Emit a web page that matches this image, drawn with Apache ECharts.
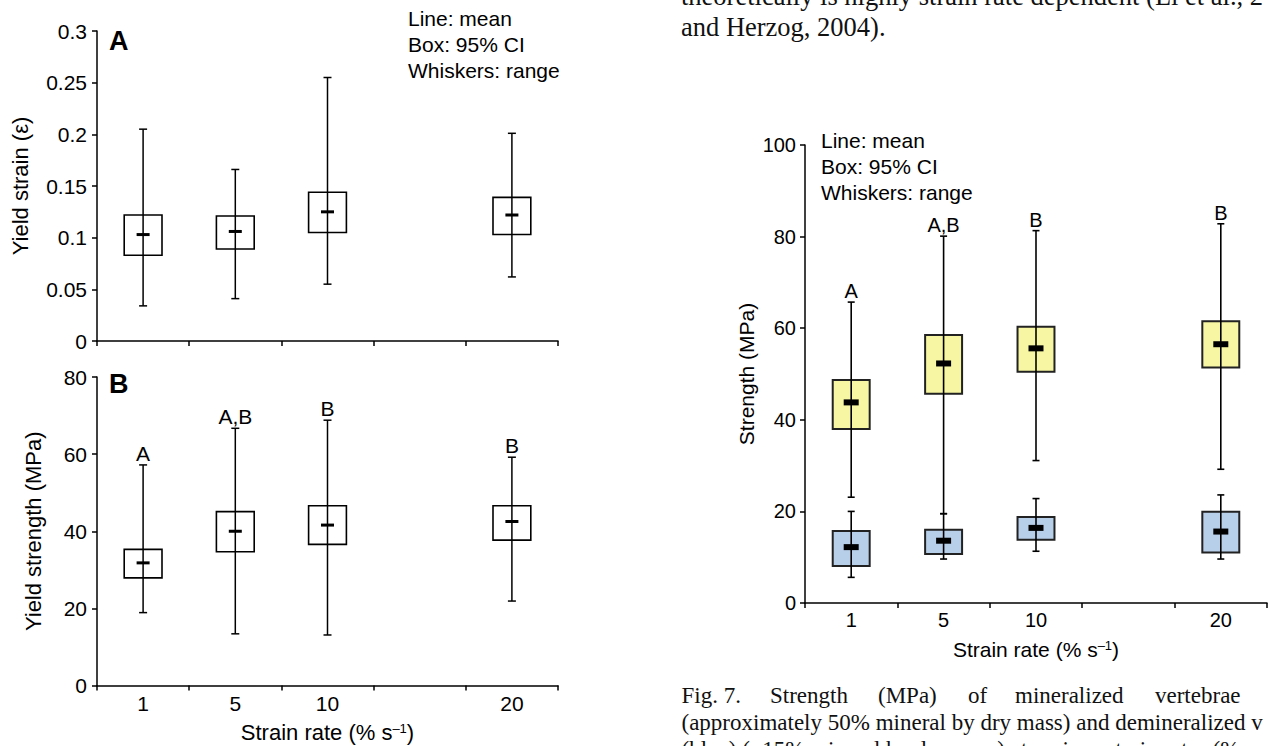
<!DOCTYPE html>
<html>
<head>
<meta charset="utf-8">
<script src="https://cdn.jsdelivr.net/npm/echarts@6/dist/echarts.min.js"></script>
<style>
html,body{margin:0;padding:0;background:#fff;}
#chart{width:1270px;height:746px;}
</style>
</head>
<body>
<div id="chart"></div>
<script>
// ---------- DATA ----------
const categories = ['1', '5', '10', '', '20'];
const xTitle = 'Strain rate (% s';

// Panel A: yield strain
const strainMin  = [0.034, 0.041, 0.055, null, 0.062];
const strainLow  = [0.083, 0.089, 0.105, null, 0.103];
const strainMean = [0.103, 0.106, 0.125, null, 0.122];
const strainHigh = [0.122, 0.121, 0.144, null, 0.139];
const strainMax  = [0.205, 0.166, 0.255, null, 0.201];
const strainTicks = [0, 0.05, 0.1, 0.15, 0.2, 0.25, 0.3];

// Panel B: yield strength
const yieldMin  = [18.9, 13.4, 13.1, null, 21.9];
const yieldLow  = [27.9, 34.7, 36.6, null, 37.7];
const yieldMean = [31.8, 40.0, 41.6, null, 42.5];
const yieldHigh = [35.3, 45.1, 46.6, null, 46.6];
const yieldMax  = [57.2, 66.7, 68.8, null, 59.2];
const yieldLetters = ['A', 'A,B', 'B', '', 'B'];
const yieldTicks = [0, 20, 40, 60, 80];

// Fig. 7: strength, mineralized (yellow) and demineralized (blue)
const minMin  = [23.1, 19.5, 31.1, null, 29.2];
const minLow  = [38.0, 45.7, 50.5, null, 51.4];
const minMean = [43.8, 52.3, 55.6, null, 56.5];
const minHigh = [48.7, 58.5, 60.3, null, 61.5];
const minMax  = [65.7, 80.1, 81.3, null, 82.8];
const demMin  = [5.6, 9.6, 11.3, null, 9.6];
const demLow  = [8.1, 10.7, 13.8, null, 11.0];
const demMean = [12.2, 13.6, 16.4, null, 15.6];
const demHigh = [15.7, 16.0, 18.8, null, 19.9];
const demMax  = [20.0, 19.5, 22.8, null, 23.6];
const strengthLetters = ['A', 'A,B', 'B', '', 'B'];
const strengthTicks = [0, 20, 40, 60, 80, 100];

const legendText = 'Line: mean\nBox: 95% CI\nWhiskers: range';

// ---------- HELPERS ----------
const SANS = '"Liberation Sans", Arial, Helvetica, sans-serif';
const SERIF = '"Liberation Serif", "Times New Roman", serif';

function rows(mn, lo, me, hi, mx) {
  const out = [];
  for (let i = 0; i < categories.length; i++) {
    if (me[i] == null) continue;
    out.push([i, mn[i], lo[i], me[i], hi[i], mx[i]]);
  }
  return out;
}

function boxSeries(idx, data, opt) {
  return {
    type: 'custom',
    xAxisIndex: idx, yAxisIndex: idx,
    data: data,
    encode: { x: 0, y: [1, 2, 3, 4, 5] },
    z: opt.z || 2,
    renderItem: function (params, api) {
      const x = api.value(0);
      const pMin = api.coord([x, api.value(1)]);
      const pLow = api.coord([x, api.value(2)]);
      const pMean = api.coord([x, api.value(3)]);
      const pHigh = api.coord([x, api.value(4)]);
      const pMax = api.coord([x, api.value(5)]);
      const band = api.size([1, 0])[0];
      const bw = band * opt.boxRatio;
      const cx = pMean[0];
      const children = [
        { type: 'rect', shape: { x: cx - bw / 2, y: pHigh[1], width: bw, height: pLow[1] - pHigh[1] },
          style: { fill: opt.fill, stroke: opt.stroke, lineWidth: opt.boxLine } },
        { type: 'line', shape: { x1: cx, y1: pMax[1], x2: cx, y2: pMin[1] },
          style: { stroke: '#000', lineWidth: opt.whiskerLine } },
        { type: 'line', shape: { x1: cx - opt.cap / 2, y1: pMax[1], x2: cx + opt.cap / 2, y2: pMax[1] },
          style: { stroke: '#000', lineWidth: opt.whiskerLine } },
        { type: 'line', shape: { x1: cx - opt.cap / 2, y1: pMin[1], x2: cx + opt.cap / 2, y2: pMin[1] },
          style: { stroke: '#000', lineWidth: opt.whiskerLine } },
        { type: 'rect', shape: { x: cx - opt.meanW / 2, y: pMean[1] - opt.meanH / 2, width: opt.meanW, height: opt.meanH },
          style: { fill: '#000' } }
      ];
      if (opt.letters) {
        const t = opt.letters[x];
        if (t) {
          children.push({ type: 'text', x: cx, y: pMax[1] - opt.letterGap,
            style: { text: t, fontSize: opt.letterSize, fontFamily: SANS, fill: '#000',
                     textAlign: 'center', textVerticalAlign: 'bottom' } });
        }
      }
      return { type: 'group', children: children };
    }
  };
}

function xAxisDef(idx, showLabels, name, labelSize, nameSize) {
  return {
    type: 'category', gridIndex: idx, data: categories,
    boundaryGap: true,
    axisLine: { lineStyle: { color: '#000', width: 1.5 } },
    axisTick: { show: true, alignWithLabel: false, interval: 0, length: 5, lineStyle: { color: '#000', width: 1.5 } },
    axisLabel: { show: showLabels, interval: 0, color: '#000', fontSize: labelSize, fontFamily: SANS, margin: 7 },
    name: name, nameLocation: 'middle', nameGap: 36,
    nameTextStyle: { color: '#000', fontSize: nameSize, fontFamily: SANS,
      rich: { sup: { fontSize: 13, fontFamily: SANS, color: '#000', verticalAlign: 'top', lineHeight: 13 },
              a: { fontSize: nameSize, fontFamily: SANS, color: '#000' } } },
    splitLine: { show: false }
  };
}

function yAxisDef(idx, ticks, name, nameGap, labelSize, nameSize, margin, fmt) {
  return {
    type: 'value', gridIndex: idx,
    min: ticks[0], max: ticks[ticks.length - 1], interval: ticks[1] - ticks[0],
    axisLine: { show: true, lineStyle: { color: '#000', width: 1.5 } },
    axisTick: { show: true, length: 5, lineStyle: { color: '#000', width: 1.5 } },
    axisLabel: { color: '#000', fontSize: labelSize, fontFamily: SANS, margin: margin, formatter: fmt },
    splitLine: { show: false },
    name: name, nameLocation: 'middle', nameGap: nameGap,
    nameTextStyle: { color: '#000', fontSize: nameSize, fontFamily: SANS }
  };
}

const xName = '{a|' + xTitle + '}{sup|\u20131}{a|)}';

const chart = echarts.init(document.getElementById('chart'), null, { renderer: 'svg' });

const option = {
  backgroundColor: '#fff',
  animation: false,
  grid: [
    { left: 97, top: 31, width: 461, height: 310 },
    { left: 97, top: 377, width: 461, height: 308.5 },
    { left: 805, top: 145, width: 462, height: 458 }
  ],
  xAxis: [
    xAxisDef(0, false, '', 21, 22),
    xAxisDef(1, true, xName, 21, 22),
    xAxisDef(2, true, xName, 20, 21)
  ],
  yAxis: [
    yAxisDef(0, strainTicks, 'Yield strain (\u03B5)', 66, 21, 22, 10, v => String(+v.toFixed(2))),
    yAxisDef(1, yieldTicks, 'Yield strength (MPa)', 53, 21, 22, 10, v => String(v)),
    yAxisDef(2, strengthTicks, 'Strength (MPa)', 48, 20, 21, 9, v => String(v))
  ],
  series: [
    boxSeries(0, rows(strainMin, strainLow, strainMean, strainHigh, strainMax),
      { fill: '#fff', stroke: '#000', boxLine: 1.6, whiskerLine: 1.5, cap: 8, meanW: 13, meanH: 3, boxRatio: 0.41 }),
    boxSeries(1, rows(yieldMin, yieldLow, yieldMean, yieldHigh, yieldMax),
      { fill: '#fff', stroke: '#000', boxLine: 1.6, whiskerLine: 1.5, cap: 8, meanW: 13, meanH: 3, boxRatio: 0.41,
        letters: yieldLetters, letterGap: 1, letterSize: 21 }),
    boxSeries(2, rows(minMin, minLow, minMean, minHigh, minMax),
      { fill: '#f7f7a3', stroke: '#222', boxLine: 2, whiskerLine: 1.6, cap: 7, meanW: 15, meanH: 6, boxRatio: 0.40,
        letters: strengthLetters, letterGap: 1, letterSize: 20, z: 2 }),
    boxSeries(2, rows(demMin, demLow, demMean, demHigh, demMax),
      { fill: '#b8cfea', stroke: '#222', boxLine: 2, whiskerLine: 1.6, cap: 7, meanW: 15, meanH: 6, boxRatio: 0.40, z: 3 })
  ],
  graphic: [
    { type: 'text', left: 109, top: 27, style: { text: 'A', fontSize: 27, fontWeight: 'bold', fontFamily: SANS, fill: '#000' } },
    { type: 'text', left: 109, top: 370, style: { text: 'B', fontSize: 27, fontWeight: 'bold', fontFamily: SANS, fill: '#000' } },
    { type: 'text', x: 408, y: 5, style: { text: legendText, fontSize: 21, lineHeight: 26, fontFamily: SANS, fill: '#000', textAlign: 'left', textVerticalAlign: 'top' } },
    { type: 'text', x: 821, y: 127, style: { text: legendText, fontSize: 21, lineHeight: 26, fontFamily: SANS, fill: '#000', textAlign: 'left', textVerticalAlign: 'top' } },
    // surrounding page text (cut by the page edges, as in the reference)
    { type: 'text', x: 681, y: -4.5, style: { text: 'theoretically is highly strain rate dependent (Li et al., 2', fontSize: 26.5, fontFamily: SERIF, fill: '#111', textAlign: 'left', textVerticalAlign: 'middle' } },
    { type: 'text', x: 681, y: 27, style: { text: 'and Herzog, 2004).', fontSize: 26.5, fontFamily: SERIF, fill: '#111', textAlign: 'left', textVerticalAlign: 'middle' } },
    { type: 'text', x: 681.5, y: 695, style: { text: 'Fig. 7.', fontSize: 23, fontFamily: SERIF, fill: '#111', textAlign: 'left', textVerticalAlign: 'middle' } },
    { type: 'text', x: 770, y: 695, style: { text: 'Strength', fontSize: 23, fontFamily: SERIF, fill: '#111', textAlign: 'left', textVerticalAlign: 'middle' } },
    { type: 'text', x: 878, y: 695, style: { text: '(MPa)', fontSize: 23, fontFamily: SERIF, fill: '#111', textAlign: 'left', textVerticalAlign: 'middle' } },
    { type: 'text', x: 968, y: 695, style: { text: 'of', fontSize: 23, fontFamily: SERIF, fill: '#111', textAlign: 'left', textVerticalAlign: 'middle' } },
    { type: 'text', x: 1015, y: 695, style: { text: 'mineralized', fontSize: 23, fontFamily: SERIF, fill: '#111', textAlign: 'left', textVerticalAlign: 'middle' } },
    { type: 'text', x: 1155, y: 695, style: { text: 'vertebrae', fontSize: 23, fontFamily: SERIF, fill: '#111', textAlign: 'left', textVerticalAlign: 'middle' } },
    { type: 'text', x: 681.5, y: 722.5, style: { text: '(approximately 50% mineral by dry mass) and demineralized v', fontSize: 23, fontFamily: SERIF, fill: '#111', textAlign: 'left', textVerticalAlign: 'middle' } },
    { type: 'text', x: 681.5, y: 749, style: { text: '(blue) (~15% mineral by dry mass) at various strain rates (%', fontSize: 23, fontFamily: SERIF, fill: '#111', textAlign: 'left', textVerticalAlign: 'middle' } }
  ]
};

chart.setOption(option);
</script>
</body>
</html>
